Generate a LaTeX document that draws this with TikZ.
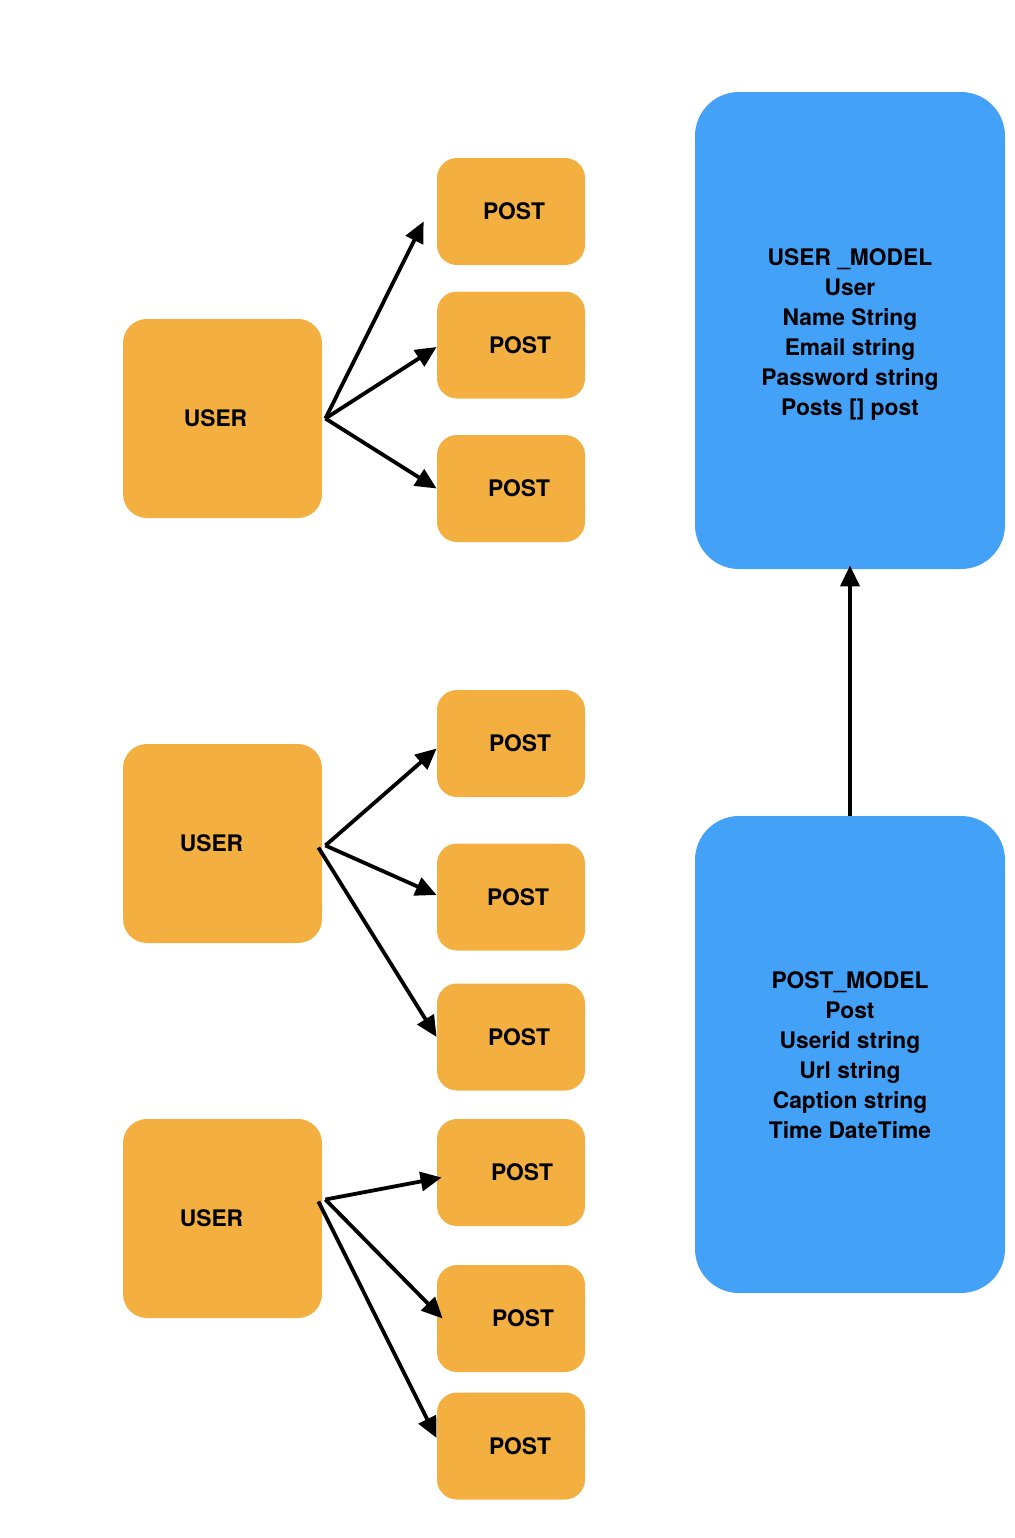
\documentclass[tikz,border=0pt]{standalone}
\usepackage{fontspec}
\setmainfont{TeX Gyre Heros}
\usetikzlibrary{arrows.meta}
\usetikzlibrary{positioning}

\definecolor{userorange}{RGB}{243,176,65}
\definecolor{modelblue}{RGB}{68,161,248}

\begin{document}
\begin{tikzpicture}[x=0.5pt,y=-0.5pt,
    every label/.style={font=\fontsize{11.4}{15}\selectfont\bfseries, align=center},
    userbox/.style={fill=userorange, rounded corners=12pt, minimum width=99.5pt, minimum height=99.5pt},
    postbox/.style={fill=userorange, rounded corners=10pt, minimum width=74pt, minimum height=53.5pt},
    modelbox/.style={fill=modelblue, rounded corners=22pt, minimum width=155pt, minimum height=238.5pt},
    arr/.style={-{Triangle[length=10.5pt,width=9.5pt]}, line width=1.9pt}]
    \useasboundingbox (0,0) rectangle (1014,1538);

    % users
    \node (u1) [userbox, label={[xshift=-3.5pt]center:USER}] at (222.5,418.5) {};
    \node (u2) [userbox, label={[xshift=-5.5pt]center:USER}] at (222.5,843.5) {};
    \node (u3) [userbox, label={[xshift=-5.5pt]center:USER}] at (222.5,1218.5) {};

    % posts
    \node (p1) [postbox, label={[xshift=1.5pt]center:POST}] at (511,211.5) {};
    \node (p2) [postbox, label={[xshift=4.5pt]center:POST}] at (511,345) {};
    \node (p3) [postbox, label={[xshift=4pt]center:POST}] at (511,488.5) {};
    \node (p4) [postbox, label={[xshift=4.5pt]center:POST}] at (511,743.5) {};
    \node (p5) [postbox, label={[xshift=3.5pt]center:POST}] at (511,897) {};
    \node (p6) [postbox, label={[xshift=4pt]center:POST}] at (511,1037) {};
    \node (p7) [postbox, label={[xshift=5.5pt]center:POST}] at (511,1172.5) {};
    \node (p8) [postbox, label={[xshift=6pt]center:POST}] at (511,1318.5) {};
    \node (p9) [postbox, label={[xshift=4.5pt]center:POST}] at (511,1446) {};

    % models
    \node (um) [modelbox, label={[yshift=-2pt]center:USER \_MODEL\\User\\Name String\\Email string\\Password string\\Posts [] post}] at (850,330.5) {};
    \node (pm) [modelbox, label={[yshift=-0.5pt]center:POST\_MODEL\\Post\\Userid string\\Url string\\Caption string\\Time DateTime}] at (850,1054.5) {};

    \path [arr] ([xshift=1.5pt]u1.east) edge[shorten >=14.5pt] ([yshift=8pt]p1.west);
    \path [arr] ([xshift=1.5pt]u1.east) edge ([yshift=-1pt]p2.west);
    \path [arr] ([xshift=1.5pt]u1.east) edge (p3.west);

    \path [arr] ([xshift=1.5pt,yshift=-1pt]u2.east) edge ([yshift=-2.5pt]p4.west);
    \path [arr] ([xshift=1.5pt,yshift=-1pt]u2.east) edge ([yshift=1pt]p5.west);
    \path [arr] ([xshift=-2pt,yshift=-2pt]u2.east) edge (p6.west);

    \path [arr] ([xshift=1.5pt,yshift=9.5pt]u3.east) edge ([xshift=2.5pt,yshift=-2.5pt]p7.west);
    \path [arr] ([xshift=1.5pt,yshift=9.5pt]u3.east) edge ([xshift=3pt]p8.west);
    \path [arr] ([xshift=-2pt,yshift=8.5pt]u3.east) edge ([yshift=4pt]p9.west);

    \path [arr] (pm.north) edge ([yshift=2pt]um.south);
  \end{tikzpicture}
\end{document}
